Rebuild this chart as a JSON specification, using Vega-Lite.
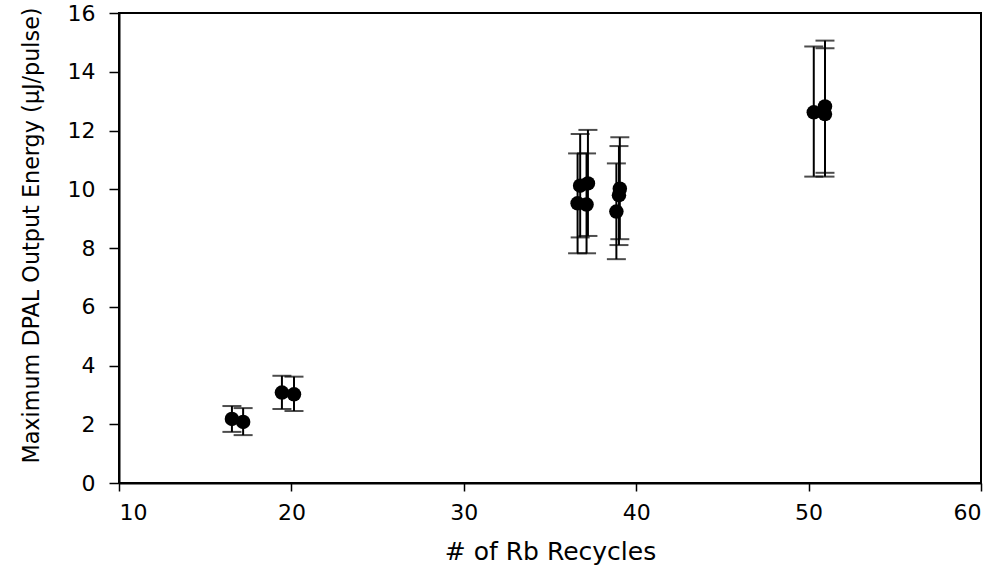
{
  "$schema": "https://vega.github.io/schema/vega-lite/v6.json",
  "width": 862,
  "height": 470,
  "autosize": {"type": "none"},
  "padding": {"left": 119, "top": 13, "right": 16, "bottom": 88},
  "background": "white",
  "config": {
    "font": "DejaVu Sans",
    "view": {"stroke": "black", "strokeWidth": 2}
  },
  "data": {
    "values": [
      {"x": 16.55, "y": 2.18, "lo": 1.74, "hi": 2.62},
      {"x": 17.2, "y": 2.08, "lo": 1.63, "hi": 2.55},
      {"x": 19.45, "y": 3.08, "lo": 2.52, "hi": 3.65},
      {"x": 20.15, "y": 3.02, "lo": 2.45, "hi": 3.62},
      {"x": 36.6, "y": 9.52, "lo": 7.82, "hi": 11.22},
      {"x": 37.12, "y": 9.48, "lo": 7.82, "hi": 11.22},
      {"x": 36.75, "y": 10.12, "lo": 8.36, "hi": 11.88},
      {"x": 37.2, "y": 10.2, "lo": 8.41, "hi": 12.02},
      {"x": 38.85, "y": 9.24, "lo": 7.62, "hi": 10.88},
      {"x": 39.0, "y": 9.8, "lo": 8.1, "hi": 11.47},
      {"x": 39.05, "y": 10.02, "lo": 8.3, "hi": 11.77},
      {"x": 50.3, "y": 12.62, "lo": 10.43, "hi": 14.86},
      {"x": 50.95, "y": 12.82, "lo": 10.56, "hi": 15.06},
      {"x": 50.95, "y": 12.56, "lo": 10.43, "hi": 14.8}
    ]
  },
  "encoding": {
    "x": {
      "field": "x", "type": "quantitative",
      "scale": {"domain": [10, 60], "nice": false, "zero": false},
      "axis": {
        "title": "# of Rb Recycles", "values": [10, 20, 30, 40, 50, 60],
        "grid": false, "domainColor": "black", "domainWidth": 2, "tickColor": "black", "tickWidth": 1.5, "tickSize": 8,
        "labelColor": "black", "titleColor": "black", "labelFont": "DejaVu Sans", "titleFont": "DejaVu Sans",
        "labelFontSize": 22, "titleFontSize": 25, "titleFontWeight": "normal",
        "labelPadding": 11, "titlePadding": 16
      }
    }
  },
  "layer": [
    {
      "mark": {"type": "rule", "color": "black", "strokeWidth": 2},
      "encoding": {
        "y": {"field": "lo", "type": "quantitative",
          "scale": {"domain": [0, 16], "nice": false},
          "axis": {
            "title": "Maximum DPAL Output Energy (µJ/pulse)", "values": [0, 2, 4, 6, 8, 10, 12, 14, 16],
            "grid": false, "domainColor": "black", "domainWidth": 2, "tickColor": "black", "tickWidth": 1.5, "tickSize": 10,
            "labelColor": "black", "titleColor": "black", "labelFont": "DejaVu Sans", "titleFont": "DejaVu Sans",
            "labelFontSize": 22, "titleFontSize": 22.3, "titleFontWeight": "normal",
            "labelPadding": 14, "titlePadding": 24, "titleY": 222
          }
        },
        "y2": {"field": "hi"}
      }
    },
    {
      "mark": {"type": "tick", "color": "black", "size": 19, "thickness": 2, "orient": "horizontal"},
      "encoding": {"y": {"field": "lo", "type": "quantitative"}}
    },
    {
      "mark": {"type": "tick", "color": "black", "size": 19, "thickness": 2, "orient": "horizontal"},
      "encoding": {"y": {"field": "hi", "type": "quantitative"}}
    },
    {
      "mark": {"type": "point", "shape": "circle", "filled": true, "color": "black", "opacity": 1, "size": 210},
      "encoding": {"y": {"field": "y", "type": "quantitative"}}
    }
  ]
}
